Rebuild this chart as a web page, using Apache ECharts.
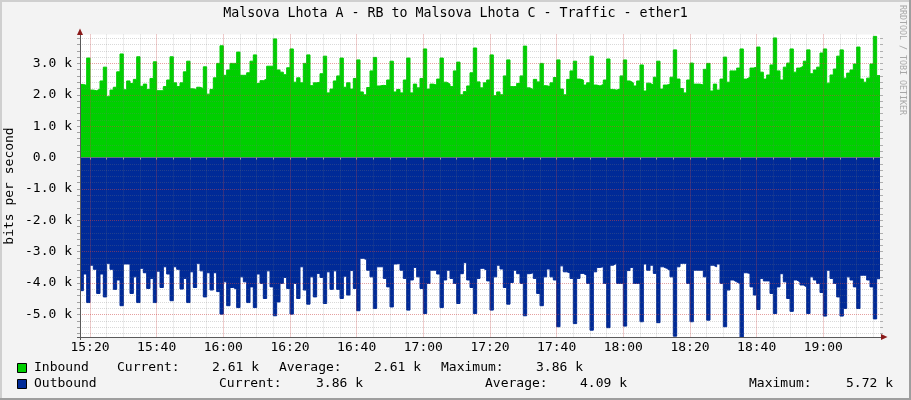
<!DOCTYPE html>
<html><head><meta charset="utf-8">
<script src="https://cdn.jsdelivr.net/npm/echarts@6/dist/echarts.min.js"></script>
<style>html,body{margin:0;padding:0;background:#F3F3F3}#c{width:911px;height:400px}</style>
</head><body><div id="c"></div>
<script>
// ---------- data ----------
const chartTitle = 'Malsova Lhota A - RB to Malsova Lhota C - Traffic - ether1';
const yAxisName = 'bits per second';
const sideText = 'RRDTOOL / TOBI OETIKER';
const startMinute = 17;          // minutes after 15:00 of first sample
const stepMinutes = 1;
// inbound traffic, k bits/s, one value per minute
const inboundK = [
2.33,2.30,3.17,2.15,2.13,2.18,2.44,2.88,1.94,2.15,
2.24,2.73,3.30,2.16,2.44,2.36,2.49,3.21,2.27,2.34,
2.17,2.52,3.05,2.13,2.13,2.26,2.47,3.21,2.38,2.26,
2.38,2.73,3.07,2.19,2.17,2.24,2.20,2.89,2.02,2.17,
2.54,3.00,3.56,2.62,2.79,3.00,3.00,3.36,2.62,2.62,
2.70,3.07,3.27,2.36,2.45,2.50,2.91,2.91,3.78,2.79,
2.72,2.64,2.86,3.46,2.40,2.54,2.38,3.00,3.27,2.29,
2.38,2.40,2.67,3.23,2.06,2.18,2.44,2.60,3.17,2.24,
2.38,2.18,2.52,3.11,2.09,2.00,2.23,2.76,3.19,2.28,
2.30,2.29,2.47,3.07,2.09,2.17,2.06,2.47,3.17,2.06,
2.34,2.22,2.52,3.46,2.18,2.34,2.31,2.50,3.17,2.40,
2.34,2.26,2.76,3.04,2.00,2.10,2.28,2.70,3.49,2.41,
2.22,2.38,2.47,3.27,1.97,2.09,2.00,2.60,3.11,2.26,
2.26,2.36,2.60,3.55,2.22,2.16,2.49,2.41,3.00,2.29,
2.26,2.38,2.55,3.11,2.18,2.00,2.49,2.76,3.07,2.50,
2.47,2.31,2.38,3.23,2.31,2.28,2.33,2.47,3.14,2.17,
2.15,2.18,2.60,3.11,2.44,2.38,2.28,2.44,2.95,2.12,
2.37,2.31,2.56,3.07,2.18,2.31,2.33,2.56,3.43,2.50,
2.20,2.06,2.47,3.01,2.34,2.34,2.31,2.81,3.00,2.12,
2.34,2.15,2.50,3.20,2.40,2.76,2.76,2.85,3.46,2.50,
2.56,2.85,2.88,3.52,2.72,2.50,2.63,2.95,3.81,2.76,
2.47,2.88,3.01,3.46,2.72,2.85,2.91,3.07,3.43,2.67,
2.79,2.88,3.33,3.46,2.37,2.63,2.82,3.23,3.43,2.53,
2.69,2.79,2.98,3.52,2.50,2.40,2.53,2.98,3.86,2.61
];
// outbound traffic (drawn negative), k bits/s
const outboundK = [
-4.24,-3.71,-4.62,-3.43,-3.56,-4.33,-3.71,-4.44,-3.37,-3.56,
-4.20,-3.90,-4.72,-3.39,-3.39,-4.33,-3.80,-4.62,-3.53,-3.67,
-4.17,-3.85,-4.62,-3.62,-4.14,-3.48,-3.71,-4.56,-3.48,-3.56,
-4.19,-3.85,-4.62,-3.64,-4.14,-3.37,-3.61,-4.44,-3.67,-4.22,
-3.67,-4.27,-4.99,-3.96,-4.72,-4.14,-4.20,-4.78,-3.80,-3.96,
-4.62,-4.12,-4.78,-3.71,-4.01,-4.49,-3.61,-4.12,-5.04,-4.60,
-4.01,-3.82,-4.17,-4.99,-4.01,-4.49,-3.48,-4.22,-4.67,-3.80,
-4.44,-3.69,-3.82,-4.65,-3.64,-4.20,-3.61,-4.20,-4.49,-3.78,
-4.38,-3.60,-4.17,-4.88,-3.21,-3.25,-3.59,-3.80,-4.81,-3.48,
-3.48,-3.85,-4.12,-4.76,-3.39,-3.37,-3.59,-3.85,-4.86,-3.90,
-3.50,-3.80,-4.17,-4.97,-4.01,-3.59,-3.59,-3.71,-4.78,-3.90,
-3.59,-3.85,-4.01,-4.65,-3.70,-3.35,-3.90,-4.14,-4.97,-3.85,
-3.53,-3.59,-3.93,-4.86,-3.80,-3.43,-3.55,-4.14,-4.67,-3.98,
-3.59,-3.70,-4.01,-5.04,-3.70,-3.67,-3.85,-4.33,-4.72,-3.80,
-3.55,-3.80,-3.90,-5.39,-3.45,-3.64,-3.67,-3.85,-5.29,-3.85,
-3.69,-3.75,-4.01,-5.50,-3.64,-3.50,-3.48,-4.01,-5.42,-3.43,
-3.37,-4.01,-4.01,-5.37,-3.60,-3.50,-4.01,-4.01,-5.23,-3.39,
-3.59,-3.43,-3.69,-5.26,-3.48,-3.53,-3.59,-3.80,-5.69,-3.48,
-3.37,-3.37,-4.01,-5.23,-3.59,-3.59,-3.59,-3.80,-5.18,-3.43,
-3.48,-3.39,-4.01,-5.39,-4.22,-3.90,-3.96,-4.01,-5.72,-3.67,
-3.69,-4.12,-4.38,-4.84,-3.85,-3.93,-3.93,-4.33,-4.97,-4.12,
-3.70,-3.96,-4.49,-4.90,-3.90,-3.96,-4.06,-4.12,-4.97,-3.80,
-3.90,-4.01,-4.30,-5.05,-3.59,-3.85,-4.01,-4.44,-5.05,-4.81,
-3.80,-3.90,-4.12,-4.81,-3.75,-3.75,-3.90,-4.12,-5.14,-3.86
];
const xTickLabels = ['15:20','15:40','16:00','16:20','16:40','17:00','17:20','17:40','18:00','18:20','18:40','19:00'];
const xTickMinutes = [20,40,60,80,100,120,140,160,180,200,220,240];
const yLabelValues = [-5000,-4000,-3000,-2000,-1000,0,1000,2000,3000];
const yMin = -5720, yMax = 3920;
const seriesNames = ['Inbound','Outbound'];
const statNames = ['Current:','Average:','Maximum:'];
const inboundStats = ['2.61 k','2.61 k','3.86 k'];
const outboundStats = ['3.86 k','4.09 k','5.72 k'];

// ---------- chart ----------
const FONT = '"DejaVu Sans Mono", "Liberation Mono", monospace';
const GREEN = '#00CF00', BLUE = '#002A97';
const n = inboundK.length;
const endMinute = startMinute + n * stepMinutes;
function toSeries(arr){
  const d = arr.map((v,i)=>[startMinute + i*stepMinutes, v*1000]);
  d.push([endMinute, arr[arr.length-1]*1000]);
  return d;
}
const xMinor = []; for (let m = 20; m < endMinute; m += 5) xMinor.push(m);
const yMinor = []; for (let v = -5600; v <= 3800; v += 200) yMinor.push(v);
function fmtX(v){ const i = xTickMinutes.indexOf(Math.round(v)); return i >= 0 ? xTickLabels[i] : ''; }
function fmtY(v){ if (Math.abs(v) < 1e-6) return '0.0  '; return (v/1000).toFixed(1) + ' k'; }

const gridTop = 34.5, gridH = 302.6, gridL = 80, gridW = 800;
const minorLine = {color:'rgba(120,120,120,0.28)', width:1, type:[1,1]};
const majorLine = {color:'rgba(255,40,40,0.32)', width:1, type:[1,1]};

const chart = echarts.init(document.getElementById('c'), null, {renderer:'canvas'});
const legendRow1 = 368, legendRow2 = 384;
function txt(text, x, y, opts){
  return Object.assign({type:'text', x:x, y:y, silent:true,
    style:Object.assign({text:text, fill:'#000', font:'13px ' + FONT, textAlign:'left', textVerticalAlign:'middle'}, (opts&&opts.style)||{})},
    opts && opts.rotation !== undefined ? {rotation: opts.rotation} : {});
}
const graphics = [
  {type:'rect', shape:{x:0,y:0,width:911,height:2}, style:{fill:'#CFCFCF'}, silent:true},
  {type:'rect', shape:{x:0,y:0,width:2,height:400}, style:{fill:'#CFCFCF'}, silent:true},
  {type:'rect', shape:{x:0,y:398,width:911,height:2}, style:{fill:'#9E9E9E'}, silent:true},
  {type:'rect', shape:{x:909,y:0,width:2,height:400}, style:{fill:'#9E9E9E'}, silent:true},
  txt(chartTitle, 455.5, 14, {style:{textAlign:'center', font:'13.3px ' + FONT}}),
  txt(yAxisName, 10, 186, {rotation: Math.PI/2, style:{textAlign:'center'}}),
  txt(sideText, 902, 60, {rotation: -Math.PI/2, style:{textAlign:'center', fill:'#A8A8A8', font:'8.3px ' + FONT}}),
  // axis arrows
  {type:'polygon', shape:{points:[[77,35],[83,35],[80,28.5]]}, style:{fill:'#8B1A1A'}, silent:true, z:20},
  {type:'polygon', shape:{points:[[881,334],[881,340],[887.5,337]]}, style:{fill:'#8B1A1A'}, silent:true, z:20},
  {type:'line', shape:{x1:80.5,y1:35,x2:80.5,y2:340}, style:{stroke:'#5A5A5A', lineWidth:1}, silent:true, z:20},
  {type:'line', shape:{x1:77,y1:337.5,x2:881,y2:337.5}, style:{stroke:'#5A5A5A', lineWidth:1}, silent:true, z:20},
  // legend
  {type:'rect', shape:{x:17.5,y:363.5,width:9,height:9}, style:{fill:GREEN, stroke:'#000', lineWidth:1}, silent:true},
  {type:'rect', shape:{x:17.5,y:379.5,width:9,height:9}, style:{fill:BLUE, stroke:'#000', lineWidth:1}, silent:true},
  txt(seriesNames[0], 34, legendRow1),
  txt(seriesNames[1], 34, legendRow2),
  txt(statNames[0], 117, legendRow1), txt(inboundStats[0], 212, legendRow1),
  txt(statNames[1], 279, legendRow1), txt(inboundStats[1], 374, legendRow1),
  txt(statNames[2], 441, legendRow1), txt(inboundStats[2], 536, legendRow1),
  txt(statNames[0], 219, legendRow2), txt(outboundStats[0], 316, legendRow2),
  txt(statNames[1], 485, legendRow2), txt(outboundStats[1], 580, legendRow2),
  txt(statNames[2], 749, legendRow2), txt(outboundStats[2], 846, legendRow2)
];

chart.setOption({
  animation:false,
  backgroundColor:'#F3F3F3',
  grid:{left:gridL, top:gridTop, width:gridW, height:gridH, show:true, backgroundColor:'#FFFFFF', borderWidth:0},
  xAxis:[
    {type:'value', position:'bottom', min:startMinute, max:endMinute, z:5,
     axisLine:{show:false},
     axisTick:{show:true, customValues:xMinor, length:2, lineStyle:{color:'#A0A0A0'}},
     axisLabel:{show:true, customValues:xTickMinutes, formatter:fmtX, color:'#000', fontFamily:FONT, fontSize:13, margin:4},
     splitLine:{show:true, customValues:xMinor, lineStyle:minorLine}},
    {type:'value', position:'bottom', min:startMinute, max:endMinute, z:6,
     axisLine:{show:false},
     axisTick:{show:false, customValues:xTickMinutes},
     axisLabel:{show:false, customValues:xTickMinutes},
     splitLine:{show:true, customValues:xTickMinutes, lineStyle:majorLine}}
  ],
  yAxis:[
    {type:'value', position:'left', min:yMin, max:yMax, z:5,
     axisLine:{show:false},
     axisTick:{show:true, customValues:yMinor, length:3, lineStyle:{color:'#A0A0A0'}},
     axisLabel:{show:true, customValues:yLabelValues, formatter:fmtY, color:'#000', fontFamily:FONT, fontSize:13, margin:8},
     splitLine:{show:true, customValues:yMinor, lineStyle:minorLine}},
    {type:'value', position:'left', min:yMin, max:yMax, z:6,
     axisLine:{show:false},
     axisTick:{show:false, customValues:yLabelValues},
     axisLabel:{show:false, customValues:yLabelValues},
     splitLine:{show:true, customValues:yLabelValues, lineStyle:majorLine}},
    {type:'value', position:'right', min:yMin, max:yMax, z:6,
     axisLine:{show:false},
     axisTick:{show:true, customValues:yMinor, length:3, lineStyle:{color:'#B0B0B0'}},
     axisLabel:{show:false, customValues:yMinor},
     splitLine:{show:false}}
  ],
  graphic:graphics,
  series:[
    {name:seriesNames[0], type:'line', xAxisIndex:0, yAxisIndex:0, step:'end', data:toSeries(inboundK),
     symbol:'none', z:1, lineStyle:{width:1, color:GREEN}, areaStyle:{color:GREEN, opacity:1}},
    {name:seriesNames[1], type:'line', xAxisIndex:0, yAxisIndex:0, step:'end', data:toSeries(outboundK),
     symbol:'none', z:1, lineStyle:{width:1, color:BLUE}, areaStyle:{color:BLUE, opacity:1}}
  ]
});
</script>
</body></html>
